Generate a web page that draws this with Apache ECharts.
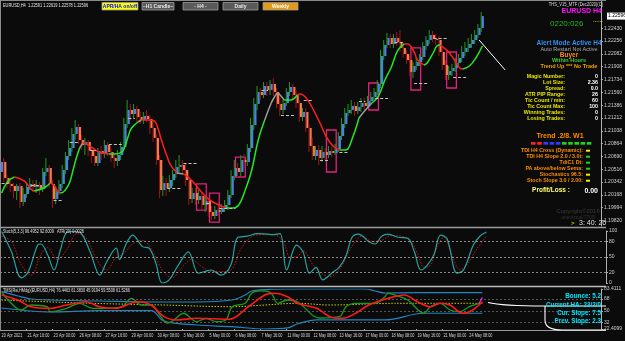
<!DOCTYPE html>
<html><head><meta charset="utf-8">
<script src="https://cdn.jsdelivr.net/npm/echarts@6/dist/echarts.min.js"></script>
<style>html,body{margin:0;padding:0;background:#0b0b0b;}#c{width:625px;height:341px;}</style>
</head><body><div id="c"></div>
<script>
// ---------------- DATA ----------------
const slotCount = 185;
const xTickLabels = ['20 Apr 2021','21 Apr 16:00','23 Apr 00:00','26 Apr 08:00','27 Apr 16:00','29 Apr 00:00','30 Apr 08:00','3 May 16:00','5 May 00:00','6 May 08:00','7 May 16:00','11 May 00:00','12 May 08:00','13 May 16:00','17 May 00:00','18 May 08:00','19 May 16:00','21 May 00:00','24 May 08:00'];
const barsPerTick = 8;
const priceTicks = [1.22430,1.22256,1.22082,1.21908,1.21734,1.21560,1.21386,1.21212,1.21038,1.20864,1.20690,1.20516,1.20342,1.20168,1.19994,1.19820];
const stochTicks = [100,80,50,20,0];
const stochLevels = [80,50,20];
const tdiTicks = [83.4111,68,50,32,22.4099];
const tdiLevels = [68,50,32];

const opens = [1.20478,1.20614,1.20396,1.20315,1.20287,1.20219,1.20287,1.20070,1.20179,1.20274,
1.20315,1.20274,1.20301,1.20247,1.20478,1.20532,1.20315,1.20111,1.20219,1.20315,
1.20505,1.20695,1.20804,1.20994,1.21089,1.20913,1.20845,1.20885,1.20777,1.20695,
1.20600,1.20763,1.20722,1.20845,1.20749,1.20668,1.20627,1.20709,1.20817,1.21130,
1.21320,1.21266,1.21334,1.21225,1.21184,1.21239,1.21198,1.21076,1.20940,1.20641,
1.20233,1.20328,1.20260,1.20369,1.20450,1.20546,1.20573,1.20505,1.20369,1.20111,
1.20192,1.20097,1.20152,1.20029,1.20084,1.19934,1.19880,1.19961,1.19934,1.19988,
1.20029,1.20165,1.20423,1.20532,1.20478,1.20641,1.20614,1.20804,1.21116,1.21402,
1.21565,1.21524,1.21646,1.21592,1.21673,1.21565,1.21402,1.21320,1.21415,1.21565,
1.21633,1.21524,1.21415,1.21225,1.21293,1.21076,1.20831,1.20695,1.20777,1.20668,
1.20749,1.20709,1.20763,1.20736,1.20790,1.20967,1.21130,1.21279,1.21320,1.21375,
1.21307,1.21361,1.21415,1.21375,1.21442,1.21497,1.21565,1.21673,1.22054,1.22203,
1.22299,1.22217,1.22299,1.22244,1.22163,1.22081,1.21999,1.21837,1.21918,1.21972,
1.22040,1.22190,1.22271,1.22339,1.22285,1.22271,1.22108,1.21932,1.21796,1.21850,
1.21891,1.21959,1.22027,1.22108,1.22163,1.22217,1.22271,1.22339,1.22435];
const closes = [1.20614,1.20396,1.20315,1.20287,1.20219,1.20287,1.20070,1.20179,1.20274,1.20315,
1.20274,1.20301,1.20247,1.20478,1.20532,1.20315,1.20111,1.20219,1.20315,1.20505,
1.20695,1.20804,1.20994,1.21089,1.20913,1.20845,1.20885,1.20777,1.20695,1.20600,
1.20763,1.20722,1.20845,1.20749,1.20668,1.20627,1.20709,1.20817,1.21130,1.21320,
1.21266,1.21334,1.21225,1.21184,1.21239,1.21198,1.21076,1.20940,1.20641,1.20233,
1.20328,1.20260,1.20369,1.20450,1.20546,1.20573,1.20505,1.20369,1.20111,1.20192,
1.20097,1.20152,1.20029,1.20084,1.19934,1.19880,1.19961,1.19934,1.19988,1.20029,
1.20165,1.20423,1.20532,1.20478,1.20641,1.20614,1.20804,1.21116,1.21402,1.21565,
1.21524,1.21646,1.21592,1.21673,1.21565,1.21402,1.21320,1.21415,1.21565,1.21633,
1.21524,1.21415,1.21225,1.21293,1.21076,1.20831,1.20695,1.20777,1.20668,1.20749,
1.20709,1.20763,1.20736,1.20790,1.20967,1.21130,1.21279,1.21320,1.21375,1.21307,
1.21361,1.21415,1.21375,1.21442,1.21497,1.21565,1.21673,1.22054,1.22203,1.22299,
1.22217,1.22299,1.22244,1.22163,1.22081,1.21999,1.21837,1.21918,1.21972,1.22040,
1.22190,1.22271,1.22339,1.22285,1.22271,1.22108,1.21932,1.21796,1.21850,1.21891,
1.21959,1.22027,1.22108,1.22163,1.22217,1.22271,1.22339,1.22435,1.22596];
const lows = [1.20233,1.20342,1.20260,1.20206,1.20124,1.20097,1.19988,1.20016,1.20124,1.20233,
1.20206,1.20192,1.20165,1.20206,1.20423,1.20260,1.19988,1.20043,1.20165,1.20260,
1.20450,1.20641,1.20749,1.20913,1.20858,1.20777,1.20709,1.20695,1.20600,1.20559,
1.20559,1.20641,1.20668,1.20695,1.20614,1.20532,1.20559,1.20641,1.20777,1.21076,
1.21184,1.21211,1.21157,1.21130,1.21130,1.21157,1.20994,1.20885,1.20573,1.20124,
1.20152,1.20152,1.20206,1.20287,1.20396,1.20478,1.20450,1.20287,1.20029,1.20056,
1.20029,1.20043,1.19961,1.19934,1.19866,1.19825,1.19839,1.19880,1.19907,1.19934,
1.19961,1.20124,1.20369,1.20396,1.20423,1.20532,1.20559,1.20749,1.21048,1.21320,
1.21456,1.21483,1.21510,1.21524,1.21510,1.21347,1.21239,1.21266,1.21375,1.21510,
1.21456,1.21347,1.21157,1.21171,1.21021,1.20749,1.20641,1.20641,1.20573,1.20614,
1.20641,1.20668,1.20681,1.20709,1.20749,1.20913,1.21076,1.21239,1.21266,1.21239,
1.21266,1.21293,1.21320,1.21347,1.21402,1.21456,1.21524,1.21619,1.21999,1.22163,
1.22163,1.22163,1.22190,1.22108,1.22027,1.21945,1.21782,1.21755,1.21864,1.21918,
1.21999,1.22135,1.22217,1.22244,1.22203,1.22054,1.21864,1.21728,1.21728,1.21782,
1.21837,1.21918,1.21972,1.22054,1.22108,1.22163,1.22217,1.22299,1.22380];
const highs = [1.20777,1.20668,1.20437,1.20369,1.20328,1.20315,1.20328,1.20260,1.20342,1.20396,
1.20369,1.20369,1.20342,1.20532,1.20668,1.20573,1.20369,1.20287,1.20369,1.20573,
1.20749,1.20913,1.21076,1.21184,1.21130,1.20980,1.20940,1.20913,1.20831,1.20777,
1.20804,1.20831,1.20913,1.20885,1.20804,1.20722,1.20777,1.20885,1.21211,1.21456,
1.21402,1.21402,1.21375,1.21293,1.21293,1.21320,1.21252,1.21130,1.20994,1.20709,
1.20423,1.20396,1.20437,1.20505,1.20641,1.20709,1.20641,1.20586,1.20423,1.20260,
1.20260,1.20233,1.20206,1.20152,1.20124,1.20016,1.20016,1.20029,1.20043,1.20097,
1.20233,1.20505,1.20641,1.20600,1.20709,1.20722,1.20858,1.21211,1.21483,1.21646,
1.21619,1.21701,1.21701,1.21728,1.21755,1.21619,1.21483,1.21456,1.21619,1.21701,
1.21673,1.21592,1.21456,1.21347,1.21347,1.21130,1.20940,1.20831,1.20845,1.20831,
1.20804,1.20831,1.20817,1.20858,1.21021,1.21211,1.21347,1.21402,1.21456,1.21429,
1.21429,1.21483,1.21483,1.21510,1.21565,1.21619,1.21728,1.22135,1.22271,1.22367,
1.22353,1.22353,1.22380,1.22407,1.22244,1.22135,1.22054,1.21972,1.22027,1.22081,
1.22244,1.22326,1.22407,1.22394,1.22353,1.22326,1.22163,1.21999,1.21918,1.21945,
1.22027,1.22081,1.22190,1.22244,1.22299,1.22353,1.22407,1.22489,1.22652];

// trend moving average: bar index, value, state of the segment ending at that point
const maIdx = [0,2,4,7,9,10,13,15,16,17,18,19,20,21,22,23,24,25,26,28,30,33,35,37,38,39,40,42,43,45,47,48,49,50,51,52,54,56,57,59,61,63,65,67,69,71,73,75,77,79,81,83,84,85,86,87,89,91,92,94,96,98,100,102,104,106,108,110,112,114,116,118,120,122,124,125,127,128,130,131,133,134,135,137,139,141,142,144,146,148];
const maVal = [1.20192,1.20355,1.20410,1.20355,1.20247,1.20219,1.20260,1.20328,1.20301,1.20233,1.20192,1.20206,1.20260,1.20342,1.20505,1.20668,1.20804,1.20872,1.20858,1.20804,1.20749,1.20722,1.20722,1.20749,1.20831,1.20967,1.21076,1.21157,1.21184,1.21184,1.21171,1.21089,1.20940,1.20804,1.20681,1.20573,1.20464,1.20450,1.20423,1.20342,1.20233,1.20138,1.20070,1.20029,1.19988,1.19988,1.20029,1.20233,1.20505,1.20913,1.21184,1.21415,1.21497,1.21551,1.21510,1.21456,1.21456,1.21524,1.21538,1.21470,1.21320,1.21143,1.20953,1.20831,1.20777,1.20777,1.20940,1.21211,1.21320,1.21415,1.21510,1.21728,1.21905,1.22135,1.22217,1.22217,1.22108,1.21999,1.21932,1.21959,1.22108,1.22190,1.22203,1.22135,1.22027,1.21891,1.21877,1.21918,1.22027,1.22190];
const maState = ['up','up','up','down','down','down','up','up','down','down','down','up','up','up','up','up','up','flat','down','down','down','down','up','up','up','up','up','up','flat','down','down','down','down','down','down','down','down','flat','down','down','down','down','down','down','down','up','up','up','up','up','up','flat','flat','flat','flat','flat','up','up','down','down','down','down','down','down','down','up','up','up','flat','flat','up','up','up','up','up','down','down','down','down','up','up','up','up','down','down','down','down','up','up','up'];

// support / resistance dashes: [fromBar, toBar, price]
const srDashes = [[0,2,1.20328],[9,12,1.20301],[16,19,1.20097],[21,24,1.20885],[27,29,1.20777],[33,37,1.20858],[39,41,1.21211],[51,55,1.20260],[56,60,1.20600],[63,64,1.20056],[67,72,1.19988],[80,82,1.21592],[86,90,1.21252],[93,96,1.21456],[98,101,1.20641],[104,107,1.20749],[110,112,1.21442],[115,119,1.21483],[121,124,1.22244],[127,131,1.21687],[133,137,1.22299],[139,143,1.21769]];
// zone boxes: [fromBar, toBar, top, bottom]
const zones = [[60,63,1.20315,1.19961],[64,67,1.20192,1.19798],[72,75,1.20681,1.20410],[100,103,1.21048,1.20478],[113,116,1.21687,1.21320],[126,129,1.22163,1.21592],[137,140,1.22108,1.21619]];
const trendLine = [[147,1.22271],[155,1.21864]];

// Stochastic
const stochMain = [[0,99],[3,60],[6,10],[8,20],[11,73],[12,75],[14,55],[16,25],[18,65],[20,98],[22,99],[24,97],[27,60],[30,15],[32,40],[35,67],[36,45],[38,75],[40,92],[43,70],[45,67],[47,40],[49,0],[51,5],[54,35],[57,60],[60,19],[62,22],[64,25],[67,15],[70,35],[72,87],[75,90],[78,95],[81,94],[83,93],[85,95],[87,25],[90,73],[92,60],[94,19],[96,30],[98,6],[101,20],[103,30],[105,50],[107,88],[109,94],[112,80],[114,75],[116,90],[118,94],[121,88],[124,86],[126,60],[128,25],[130,35],[132,55],[134,92],[136,85],[139,19],[141,25],[144,73],[146,90],[148,98]];
const stochSignal = [[0,90],[3,80],[6,35],[9,15],[12,55],[14,68],[17,45],[20,65],[23,95],[26,85],[29,45],[32,25],[35,50],[37,55],[40,75],[43,82],[46,62],[49,25],[52,10],[55,30],[58,45],[61,32],[64,22],[67,22],[70,25],[73,65],[76,88],[79,93],[83,93],[86,80],[88,50],[90,50],[92,62],[95,35],[97,22],[100,12],[103,25],[106,60],[108,80],[110,90],[113,80],[116,82],[119,91],[122,90],[125,80],[127,55],[129,30],[131,35],[133,70],[135,88],[137,62],[140,25],[142,35],[145,65],[148,90]];

// TDI
const tdiUpper = [[0,79.3],[5,72.7],[9,68.2],[15,66.6],[30,65.1],[46,63.6],[60,63.6],[71,66.6],[75,74.3],[77,80.4],[82,82.7],[91,83.4],[112,83.4],[115,80.4],[118,77.3],[128,77.8],[148,77.8]];
const tdiLower = [[0,54.4],[9,49.9],[15,48.3],[30,50.3],[46,50.3],[50,34.6],[60,28.5],[71,26.0],[81,22.4],[88,24.0],[91,30.1],[97,36.2],[118,36.2],[130,46.4],[148,46.4]];
const tdiBase = [[0,66.6],[24,62.1],[50,59.0],[71,56.4],[81,59.0],[91,61.6],[101,59.0],[121,61.6],[148,61.6]];
const tdiRsi = [[0,79.3],[2,66.6],[6,51.4],[9,59.0],[14,56.4],[15,48.8],[20,54.0],[24,61.6],[28,54.0],[33,54.0],[37,56.4],[40,69.2],[43,59.0],[46,59.0],[49,41.2],[51,31.1],[53,36.2],[56,46.4],[60,33.6],[63,38.7],[66,33.6],[69,36.2],[71,56.4],[75,61.6],[77,76.9],[80,80.4],[83,76.9],[85,61.6],[88,66.6],[91,64.0],[94,51.4],[96,42.3],[98,39.2],[104,41.2],[106,56.4],[109,61.6],[115,61.6],[118,71.7],[119,76.9],[121,74.3],[125,66.6],[130,46.4],[132,56.4],[135,61.6],[138,51.4],[141,48.8],[144,56.4],[147,61.6]];
const tdiSignal = [[0,74.3],[5,66.6],[9,56.4],[15,54.0],[20,59.0],[26,64.0],[30,56.4],[35,54.0],[42,64.0],[46,59.0],[50,41.2],[54,36.2],[60,38.7],[70,37.2],[76,56.4],[81,74.3],[84,76.9],[88,71.7],[91,61.6],[97,54.0],[101,41.2],[105,38.7],[109,46.4],[113,59.0],[119,69.2],[124,74.3],[128,64.0],[132,56.4],[135,61.6],[138,59.0],[142,46.4],[145,51.4],[148,64.0]];
const tdiCurrent = [[147,61.6],[148,70.5]];

// ---------------- CHART ----------------
const FONT = '"Liberation Sans", Arial, sans-serif';
const categories = Array.from({length: slotCount}, (_, i) => String(i));
const chart = echarts.init(document.getElementById('c'));
const W = 606;

const maColor = {up:'#22e822', down:'#ff1e1e', flat:'#9c9c9c'};
const maRuns = [];
for (let k = 1; k < maIdx.length; k++) {
  const st = maState[k];
  let run = maRuns[maRuns.length - 1];
  if (!run || run.state !== st) { run = {state: st, pts: [[maIdx[k-1], maVal[k-1]]]}; maRuns.push(run); }
  run.pts.push([maIdx[k], maVal[k]]);
}

const tickShown = i => i % barsPerTick === 0 && i / barsPerTick < xTickLabels.length;
function xAxisOf(gi, showTicks) {
  return {
    type: 'category', gridIndex: gi, data: categories, boundaryGap: true,
    axisLine: {show: false}, splitLine: {show: false},
    axisTick: showTicks ? {show: true, length: 2, lineStyle: {color: '#aaa'}, interval: tickShown} : {show: false},
    axisLabel: {show: false}
  };
}
function yAxisOf(gi, min, max, ticks, fmt) {
  return {
    type: 'value', gridIndex: gi, position: 'right', min, max, scale: true,
    splitLine: {show: false},
    axisLine: {show: true, lineStyle: {color: '#b0b0b0', width: 1}},
    axisTick: {show: true, length: 2, customValues: ticks, lineStyle: {color: '#b0b0b0'}},
    axisLabel: {show: true, customValues: ticks, formatter: fmt, fontSize: 5, color: '#cfcfcf', fontFamily: FONT, margin: 3, showMinLabel: true, showMaxLabel: true}
  };
}

const series = [];
// candles
series.push({
  type: 'custom', xAxisIndex: 0, yAxisIndex: 0, z: 3,
  data: opens.map((o, i) => [i, o, closes[i], lows[i], highs[i]]),
  encode: {x: 0, y: [1, 2, 3, 4]},
  renderItem: (params, api) => {
    const i = api.value(0), o = api.value(1), c = api.value(2), l = api.value(3), h = api.value(4);
    const po = api.coord([i, o]), pc = api.coord([i, c]), pl = api.coord([i, l]), ph = api.coord([i, h]);
    const up = c >= o;
    const x = po[0];
    const top = Math.min(po[1], pc[1]), bot = Math.max(po[1], pc[1]);
    return {type: 'group', children: [
      {type: 'rect', shape: {x: x - 0.8, y: top, width: 2.3, height: Math.max(1, bot - top)}, style: {fill: up ? '#4b82ea' : '#f27b4f'}},
      {type: 'line', shape: {x1: x - 1.2, y1: ph[1], x2: x - 1.2, y2: pl[1]}, style: {stroke: up ? '#1e9c1e' : '#a51414', lineWidth: 1}}
    ]};
  }
});
// MA runs
maRuns.forEach((run, k) => {
  const s = {type: 'line', xAxisIndex: 0, yAxisIndex: 0, data: run.pts, symbol: 'none', smooth: 0.4, z: 4,
    lineStyle: {color: maColor[run.state], width: 1.5}};
  if (k === 0) {
    s.markLine = {silent: true, symbol: ['none', 'none'], label: {show: false},
      lineStyle: {color: '#c4c4c4', type: [3, 2], width: 1.2},
      data: srDashes.map(d => [{coord: [d[0], d[2]]}, {coord: [d[1], d[2]]}]).concat([
        [{coord: trendLine[0], lineStyle: {color: '#ffffff', type: 'solid', width: 1}}, {coord: trendLine[1]}]
      ])};
    s.markArea = {silent: true, label: {show: false},
      itemStyle: {color: 'rgba(0,0,0,0)', borderColor: '#e3207a', borderWidth: 1.3},
      data: zones.map(z => [{coord: [z[0], z[2]]}, {coord: [z[1], z[3]]}])};
  }
  series.push(s);
});
// Stoch
series.push({type: 'line', xAxisIndex: 1, yAxisIndex: 1, data: stochMain, symbol: 'none', smooth: 0.35,
  lineStyle: {color: '#23a3a0', width: 1.2}, z: 4,
  markLine: {silent: true, symbol: ['none', 'none'], label: {show: false}, lineStyle: {color: '#a8a8a8', type: [2, 2], width: 0.8},
    data: stochLevels.map(v => ({yAxis: v}))}});
series.push({type: 'line', xAxisIndex: 1, yAxisIndex: 1, data: stochSignal, symbol: 'none', smooth: 0.35,
  lineStyle: {color: '#d01515', width: 1, type: [1.5, 1.5]}, z: 3});
// TDI
series.push({type: 'line', xAxisIndex: 2, yAxisIndex: 2, data: tdiUpper, symbol: 'none', smooth: 0.35, lineStyle: {color: '#1f86c2', width: 1.2},
  markLine: {silent: true, symbol: ['none', 'none'], label: {show: false}, lineStyle: {color: '#6a6a6a', type: [2, 2], width: 0.8},
    data: tdiLevels.map(v => ({yAxis: v}))}});
series.push({type: 'line', xAxisIndex: 2, yAxisIndex: 2, data: tdiLower, symbol: 'none', smooth: 0.35, lineStyle: {color: '#1f86c2', width: 1.2}});
series.push({type: 'line', xAxisIndex: 2, yAxisIndex: 2, data: tdiBase, symbol: 'none', smooth: 0.35, lineStyle: {color: '#c9c910', width: 1, type: [1.5, 1.5]}});
series.push({type: 'line', xAxisIndex: 2, yAxisIndex: 2, data: tdiRsi, symbol: 'none', smooth: 0.35, lineStyle: {color: '#1c9a1c', width: 1.3}});
series.push({type: 'line', xAxisIndex: 2, yAxisIndex: 2, data: tdiSignal, symbol: 'none', smooth: 0.35, lineStyle: {color: '#ff1a1a', width: 1.6}, z: 5});
series.push({type: 'line', xAxisIndex: 2, yAxisIndex: 2, data: tdiCurrent, symbol: 'none', lineStyle: {color: '#ff20ff', width: 1.3}, z: 6});

const option = {
  animation: false,
  backgroundColor: '#0b0b0b',
  grid: [
    {left: 0, right: 19, top: 1, height: 225},
    {left: 0, right: 19, top: 231, height: 52},
    {left: 0, right: 19, top: 289, height: 40}
  ],
  xAxis: [xAxisOf(0, false), xAxisOf(1, false), xAxisOf(2, true)],
  yAxis: [
    yAxisOf(0, 1.19744, 1.22801, priceTicks, v => v.toFixed(5)),
    yAxisOf(1, 0, 100, stochTicks, v => String(v)),
    yAxisOf(2, 22.4099, 83.4111, tdiTicks, v => (v === 83.4111 || v === 22.4099) ? v.toFixed(4) : String(v))
  ],
  series
};
chart.setOption(option);

// ---------------- TEXT OVERLAYS ----------------
const txt = (x, y, text, fill, size, align, bold, z, sx) => ({type: 'text', z: z || 50, silent: true, x, y, scaleX: sx || 1,
  style: {x: 0, y: 0, text, fill, font: (bold ? 'bold ' : '') + size + 'px ' + FONT, textAlign: align || 'left', textVerticalAlign: 'middle'}});
const rect = (x, y, w, h, fill, stroke, z) => ({type: 'rect', z: z || 45, silent: true, shape: {x, y, width: w, height: h}, style: {fill, stroke: stroke || null, lineWidth: stroke ? 0.8 : 0}});
const line = (x1, y1, x2, y2, stroke, w) => ({type: 'line', z: 40, silent: true, shape: {x1, y1, x2, y2}, style: {stroke, lineWidth: w || 1}});

const g = [];
// frame lines
g.push(line(0, 0.5, W, 0.5, '#8a8a8a', 1));
g.push(line(0.5, 0, 0.5, 331, '#8a8a8a', 1));
g.push(line(0, 227.5, W, 227.5, '#9a9a9a', 1.5));
g.push(line(0, 286.5, W, 286.5, '#bdbdbd', 1.5));
g.push(line(0, 330.5, W, 330.5, '#9a9a9a', 1));

// time axis labels, placed at their bars through the category axis
xTickLabels.forEach((t, k) => {
  const px = chart.convertToPixel({xAxisIndex: 2}, k * barsPerTick);
  g.push(txt(px, 335.5, t, '#d8d8d8', 5, 'left', false, 50, 0.76));
});

// header
g.push(txt(3, 5.5, 'EURUSD,H4  1.22591 1.22619 1.22578 1.22596', '#e6e6e6', 4.8, 'left', false, 50, 0.82));
const buttons = [
  {x: 102, w: 36, t: 'APR/HA on/off', bg: '#ffff00', fg: '#0010ff'},
  {x: 142, w: 32, t: '~H1 Candle~', bg: '#5a5a5a', fg: '#e6e6e6'},
  {x: 183, w: 35, t: '- H4 -', bg: '#5a5a5a', fg: '#e6e6e6'},
  {x: 223, w: 35, t: 'Daily', bg: '#5a5a5a', fg: '#e6e6e6'},
  {x: 263, w: 35, t: 'Weekly', bg: '#e29a1c', fg: '#ffffff'}
];
buttons.forEach(b => { g.push(rect(b.x, 2.5, b.w, 7.5, b.bg, '#9a9a9a')); g.push(txt(b.x + b.w / 2, 6.3, b.t, b.fg, 5, 'center', true)); });
g.push(txt(603, 5, 'THS_V15_MTF (Dec2020)(C)', '#dcdcdc', 4.8, 'right', false, 50, 0.85));
g.push(txt(602, 11, 'EURUSD H4', '#ff10ff', 7, 'right', true));
g.push(txt(550, 23.5, '0220:026', '#25b425', 8, 'left'));
g.push(txt(593, 20.5, '......', '#f0b000', 6, 'left', true));

// info block
const cx = 569;
g.push(txt(cx, 43.5, 'Alert Mode Active H4', '#2f8ff0', 6.5, 'center', true));
g.push(txt(cx, 49, 'Auto Restart Not Active', '#a8a8a8', 5.5, 'center'));
g.push(txt(cx, 55, 'Buyer', '#ff8c00', 6.5, 'center', true));
g.push(txt(cx, 60.5, 'Within Hours', '#3ccc3c', 5.5, 'center', true));
g.push(txt(cx, 66, 'Trend Up *** No Trade', '#f0a000', 5.5, 'center', true));
const infoLabels = ['Magic Number:', 'Lot Size:', 'Spread:', 'ATR PIP Range:', 'Tic Count / min:', 'Tic Count Max:', 'Winning Trades:', 'Losing Trades:'];
const infoValues = ['0', '2.36', '0.0', '26', '60', '100', '0', '0'];
infoLabels.forEach((l, k) => {
  g.push(txt(565, 76.7 + k * 6, l, '#e6e600', 5.3, 'right', true));
  g.push(txt(598, 76.7 + k * 6, infoValues[k], '#ffffff', 5.3, 'right', true));
});
g.push(txt(560, 136.5, 'Trend .2/8. W1', '#ff8c00', 7, 'center', true));
const trendStates = ['down', 'down', 'mid', 'mid', 'mid', 'up', 'up', 'up', 'up', 'up'];
const stateColor = {down: '#ff2020', mid: '#2a3cff', up: '#1ed21e', neutral: '#f0f000'};
trendStates.forEach((s, k) => g.push(rect(531 + k * 6.2, 142, 4.6, 2.7, stateColor[s])));
const sigLabels = ['TDI H4 Cross (Dynamic):', 'TDI H4 Slope 2.0 / 3.0t:', 'TdiC1 Dt:', 'PA above/below Sema:', 'Stochastics 96.5:', 'Stoch Slope 3.0 / 2.00:'];
const sigStates = ['neutral', 'up', 'up', 'up', 'neutral', 'neutral'];
sigLabels.forEach((l, k) => {
  g.push(txt(583, 150.7 + k * 6, l, '#ff8c00', 5.3, 'right', true));
  g.push(rect(586, 149.7 + k * 6, 4, 2, stateColor[sigStates[k]]));
});
g.push(txt(551, 190, 'Profit/Loss :', '#ffff70', 6.5, 'center', true));
g.push(txt(598, 191, '0.00', '#ffffff', 7, 'right', true));
g.push(txt(578, 211, 'Copyright©2016', '#3a3a3a', 6, 'center'));
g.push(txt(578, 217.5, 'onevisual/7708', '#333333', 5, 'center'));
g.push(txt(571, 223.5, '>', '#c8c800', 6, 'left', true));
g.push(txt(579, 223.5, '3: 40: 26', '#e0e0e0', 7, 'left'));

// sub-window titles
g.push(txt(3, 231.7, 'Stoch(5,3,3) 96.4952 92.6009   ATR(20) 0.0026', '#e0e0e0', 4.8, 'left', false, 50, 0.8));
g.push(txt(3, 290.7, 'TMS(Rsi,HMdg)(EURUSD,H4) 76.4463 61.3830 45.9194 59.5508 61.5266', '#e0e0e0', 4.8, 'left', false, 50, 0.8));

// callout in TDI window
const wStyle = {stroke: '#ffffff', lineWidth: 1.1, fill: null};
g.push({type: 'bezierCurve', z: 41, silent: true, shape: {x1: 488, y1: 302.5, cpx1: 500, cpy1: 305.5, cpx2: 515, cpy2: 306, x2: 545, y2: 306}, style: wStyle});
g.push({type: 'polyline', z: 41, silent: true, shape: {points: [[545, 306], [606, 306]]}, style: wStyle});
g.push({type: 'polyline', z: 41, silent: true, shape: {points: [[545, 306], [545, 320]]}, style: wStyle});
g.push({type: 'bezierCurve', z: 41, silent: true, shape: {x1: 545, y1: 320, cpx1: 545, cpy1: 330, x2: 562, y2: 330}, style: wStyle});
g.push({type: 'polyline', z: 41, silent: true, shape: {points: [[562, 330], [606, 330]]}, style: wStyle});
g.push(txt(601, 296, 'Bounce: 5.2', '#00e8ff', 6.3, 'right', true));
g.push(txt(601, 305, 'Current HA: 23/2/0', '#00e8ff', 6.3, 'right', true));
g.push(txt(601, 313.5, 'Cur. Slope: 7.5', '#00e8ff', 6.3, 'right', true));
g.push(txt(601, 321.5, 'Prev. Slope: 2.3', '#00e8ff', 6.3, 'right', true));

// current price box on the price scale
const lastClose = closes[closes.length - 1];
const py = chart.convertToPixel({yAxisIndex: 0}, lastClose);
g.push(rect(607, py - 3.5, 18, 7, '#ffffff', null, 60));
g.push(txt(608, py, lastClose.toFixed(5), '#000000', 5, 'left', false, 61));

chart.setOption({graphic: {elements: g}});
</script>
</body></html>
